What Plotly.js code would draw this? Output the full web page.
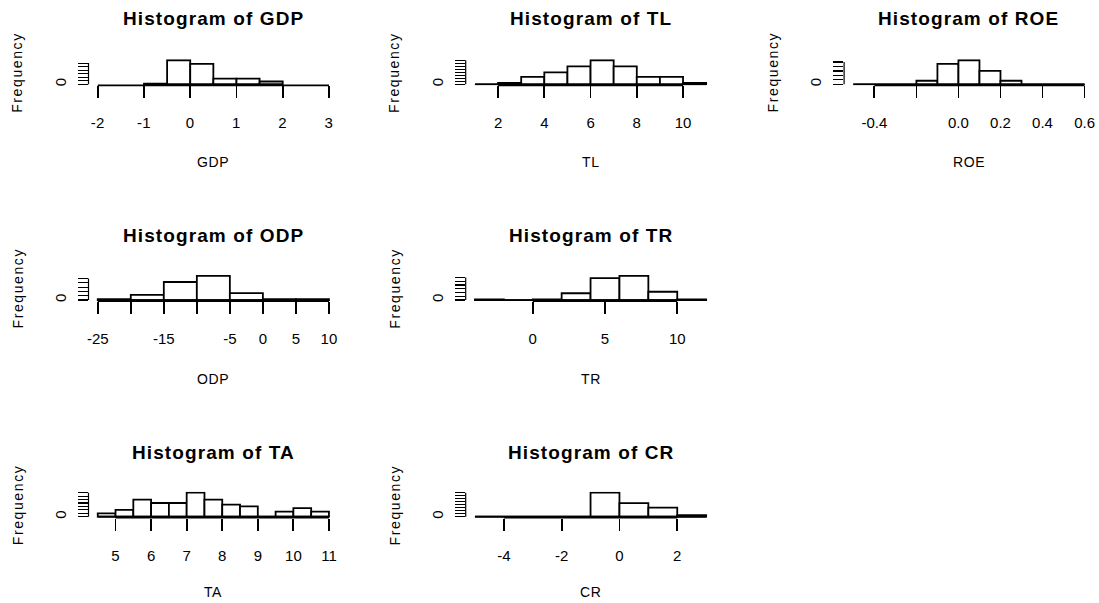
<!DOCTYPE html>
<html><head><meta charset="utf-8">
<script src="https://cdn.plot.ly/plotly-3.0.1.min.js"></script>
<style>
html,body{margin:0;padding:0;background:#fff}
#chart{width:1099px;height:603px}
.xtick text{letter-spacing:0.4px}
</style></head><body><div id="chart"></div>
<script>
// ---- data ----
const varNames = ['GDP','TL','ROE','ODP','TR','TA','CR'];

const gdpBreaks = [-1,-0.5,0,0.5,1,1.5,2];
const gdpCounts = [1,34,29,8,8,4];
const gdpXlim = [-2,3];
const gdpXticks = [-2,-1,0,1,2,3];
const gdpXlabels = ['-2','-1','0','1','2','3'];
const gdpYticks = [0,5,10,15,20,25,30];

const tlBreaks = [1,2,3,4,5,6,7,8,9,10,11];
const tlCounts = [0,1,5,8,12,16,12,5,5,1];
const tlXlim = [1,11];
const tlXticks = [2,4,6,8,10];
const tlXlabels = ['2','4','6','8','10'];
const tlYticks = [0,2,4,6,8,10,12,14,16];

const roeBreaks = [-0.5,-0.4,-0.3,-0.2,-0.1,0,0.1,0.2,0.3,0.4,0.5,0.6];
const roeCounts = [0,0,0,4,23,27,15,4,0,0,0];
const roeXlim = [-0.5,0.6];
const roeXticks = [-0.4,-0.2,0,0.2,0.4,0.6];
const roeXlabels = ['-0.4','','0.0','0.2','0.4','0.6'];
const roeYticks = [0,5,10,15,20,25];

const odpBreaks = [-25,-20,-15,-10,-5,0,5,10];
const odpCounts = [1,6,21,28,8,1,1];
const odpXlim = [-25,10];
const odpXticks = [-25,-20,-15,-10,-5,0,5,10];
const odpXlabels = ['-25','','-15','','-5','0','5','10'];
const odpYticks = [0,5,10,15,20,25];

const trBreaks = [-4,-2,0,2,4,6,8,10,12];
const trCounts = [1,0,1,9,29,32,11,1];
const trXlim = [-4,12];
const trXticks = [0,5,10];
const trXlabels = ['0','5','10'];
const trYticks = [0,5,10,15,20,25,30];

const taBreaks = [4.5,5,5.5,6,6.5,7,7.5,8,8.5,9,9.5,10,10.5,11];
const taCounts = [2,4,10,8,8,14,10,7,6,0,3,5,3];
const taXlim = [4.5,11];
const taXticks = [5,6,7,8,9,10,11];
const taXlabels = ['5','6','7','8','9','10','11'];
const taYticks = [0,2,4,6,8,10,12,14];

const crBreaks = [-5,-4,-3,-2,-1,0,1,2,3];
const crCounts = [0,0,0,0,16,9,6,1];
const crXlim = [-5,3];
const crXticks = [-4,-2,0,2];
const crXlabels = ['-4','-2','0','2'];
const crYticks = [0,2,4,6,8,10,12,14,16];

const panels = [
  {name:'GDP', breaks:gdpBreaks, counts:gdpCounts, xlim:gdpXlim, xt:gdpXticks, xl:gdpXlabels, yt:gdpYticks},
  {name:'TL',  breaks:tlBreaks,  counts:tlCounts,  xlim:tlXlim,  xt:tlXticks,  xl:tlXlabels,  yt:tlYticks},
  {name:'ROE', breaks:roeBreaks, counts:roeCounts, xlim:roeXlim, xt:roeXticks, xl:roeXlabels, yt:roeYticks},
  {name:'ODP', breaks:odpBreaks, counts:odpCounts, xlim:odpXlim, xt:odpXticks, xl:odpXlabels, yt:odpYticks},
  {name:'TR',  breaks:trBreaks,  counts:trCounts,  xlim:trXlim,  xt:trXticks,  xl:trXlabels,  yt:trYticks},
  {name:'TA',  breaks:taBreaks,  counts:taCounts,  xlim:taXlim,  xt:taXticks,  xl:taXlabels,  yt:taYticks},
  {name:'CR',  breaks:crBreaks,  counts:crCounts,  xlim:crXlim,  xt:crXticks,  xl:crXlabels,  yt:crYticks}
];

// ---- layout geometry (pixels) ----
const W = 1099, H = 603;
const colLeft = [88.5, 465.7, 844.1];
const plotW = 249.7;
const rowBottom = [85.3, 301, 517.7];
const plotH = 26;
const titleY = [19, 235.5, 452.5];
const xlabY = [162, 379, 592];
const cells = [[0,0],[0,1],[0,2],[1,0],[1,1],[2,0],[2,1]];
const FONT = 'Liberation Sans, Arial, sans-serif';
const LW = 1.8;

const px = v => v / W;
const py = v => 1 - v / H;

const traces = [], shapes = [], annotations = [];
const layout = {
  width: W, height: H, margin:{l:0,r:0,t:0,b:0},
  paper_bgcolor:'#fff', plot_bgcolor:'#fff', showlegend:false,
  font:{family:FONT, color:'#000'}
};

panels.forEach((p, i) => {
  const [r, c] = cells[i];
  const n = i + 1;
  const xa = 'x' + (n === 1 ? '' : n), ya = 'y' + (n === 1 ? '' : n);
  const xKey = 'xaxis' + (n === 1 ? '' : n), yKey = 'yaxis' + (n === 1 ? '' : n);
  const left = colLeft[c], bottom = rowBottom[r];
  const mids = [], widths = [];
  for (let k = 0; k < p.counts.length; k++) {
    mids.push((p.breaks[k] + p.breaks[k+1]) / 2);
    widths.push(p.breaks[k+1] - p.breaks[k]);
  }
  const M = Math.max(...p.counts);
  const span = p.xlim[1] - p.xlim[0];
  traces.push({
    type:'bar', x:mids, y:p.counts, width:widths, xaxis:xa, yaxis:ya,
    marker:{color:'#fff', line:{color:'#000', width:LW}}, hoverinfo:'x+y'
  });
  layout[xKey] = {
    domain:[px(left), px(left + plotW)], anchor:ya,
    range:[p.xlim[0] - 0.04*span, p.xlim[1] + 0.04*span],
    showline:false, showgrid:false, zeroline:false,
    ticks:'outside', ticklen:12, tickwidth:LW, tickcolor:'#000',
    tickmode:'array', tickvals:p.xt, ticktext:p.xl,
    tickfont:{family:FONT, size:15, color:'#000'}, ticklabelstandoff:12,
    fixedrange:true
  };
  layout[yKey] = {
    domain:[py(bottom), py(bottom - plotH)], anchor:xa,
    range:[-0.04*M, 1.04*M],
    showline:false, showgrid:false, zeroline:false,
    ticks:'outside', ticklen:10, tickwidth:1.2, tickcolor:'#000',
    tickmode:'array', tickvals:p.yt, ticktext:p.yt.map(v => v === 0 ? '0' : ''),
    tickangle:-90, tickfont:{family:FONT, size:15, color:'#000'}, ticklabelstandoff:6,
    fixedrange:true
  };
  // baseline across all bins (zero-count bins show as a line)
  shapes.push({type:'line', xref:xa, yref:ya, x0:p.breaks[0], x1:p.breaks[p.breaks.length-1], y0:0, y1:0,
    line:{color:'#000', width:LW}});
  // x axis line from first to last tick
  shapes.push({type:'line', xref:xa, yref:ya + ' domain', x0:p.xt[0], x1:p.xt[p.xt.length-1], y0:0, y1:0,
    line:{color:'#000', width:LW}});
  // y axis line from first to last tick
  shapes.push({type:'line', xref:xa + ' domain', yref:ya, x0:0, x1:0, y0:p.yt[0], y1:p.yt[p.yt.length-1],
    line:{color:'#000', width:1.2}});
  const cx = left + plotW / 2;
  annotations.push({text:'<span style="letter-spacing:1.1px">Histogram of ' + p.name + '</span>',
    xref:'paper', yref:'paper', x:px(cx), y:py(titleY[r]), xanchor:'center', yanchor:'middle',
    showarrow:false, font:{family:FONT, size:19, weight:700, color:'#000'}});
  annotations.push({text:'<span style="letter-spacing:0.6px">' + p.name + '</span>',
    xref:'paper', yref:'paper', x:px(cx), y:py(xlabY[r]), xanchor:'center', yanchor:'middle',
    showarrow:false, font:{family:FONT, size:14, color:'#000'}});
  annotations.push({text:'<span style="letter-spacing:1.6px">Frequency</span>', textangle:-90,
    xref:'paper', yref:'paper', x:px(left - 71), y:py(bottom - plotH/2), xanchor:'center', yanchor:'middle',
    showarrow:false, font:{family:FONT, size:14, color:'#000'}});
});

layout.shapes = shapes;
layout.annotations = annotations;
Plotly.newPlot('chart', traces, layout, {staticPlot:true, displayModeBar:false});
</script></body></html>
